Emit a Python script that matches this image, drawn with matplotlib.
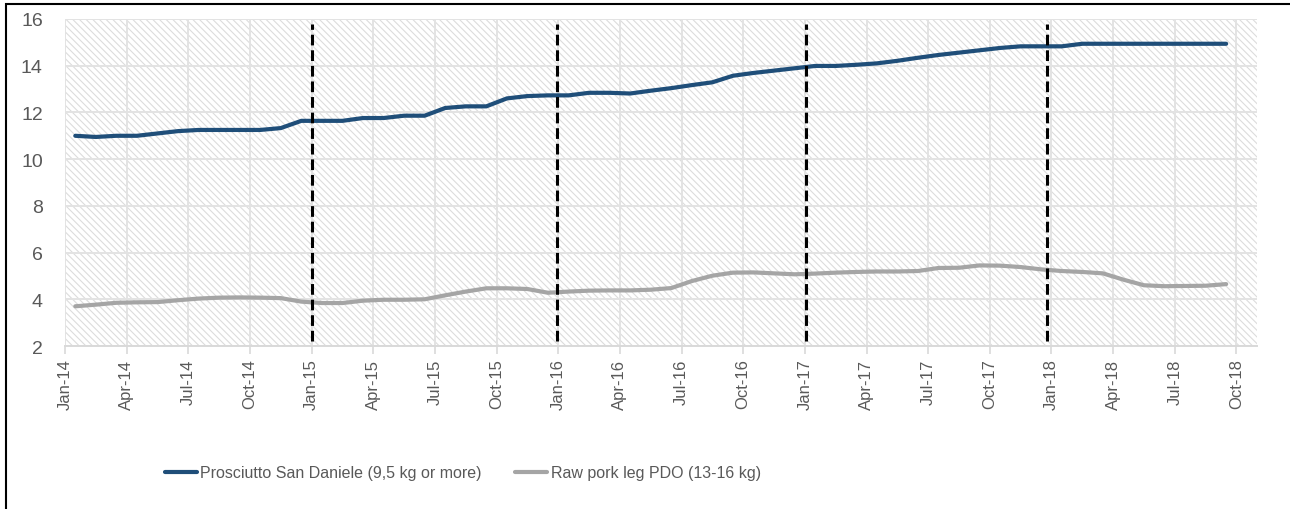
import matplotlib.pyplot as plt
from matplotlib.patches import Rectangle

# monthly prices (EUR/kg), Jan-14 .. Sep-18
san_daniele = [11.0, 10.95, 11.0, 11.0, 11.1, 11.2, 11.25, 11.25, 11.25, 11.25, 11.33, 11.64,
               11.64, 11.64, 11.76, 11.76, 11.86, 11.86, 12.19, 12.26, 12.26, 12.6, 12.7, 12.73,
               12.73, 12.84, 12.84, 12.81, 12.93, 13.04, 13.17, 13.29, 13.57, 13.69, 13.79, 13.89,
               13.99, 13.99, 14.04, 14.1, 14.21, 14.34, 14.46, 14.56, 14.66, 14.76, 14.83, 14.83,
               14.83, 14.94, 14.94, 14.94, 14.94, 14.94, 14.94, 14.94, 14.94]
raw_pork_leg = [3.70, 3.77, 3.85, 3.87, 3.88, 3.96, 4.03, 4.07, 4.08, 4.07, 4.05, 3.90,
                3.84, 3.84, 3.94, 3.98, 3.98, 4.00, 4.17, 4.33, 4.47, 4.47, 4.44, 4.28,
                4.33, 4.37, 4.38, 4.38, 4.41, 4.48, 4.78, 5.01, 5.14, 5.15, 5.11, 5.07,
                5.10, 5.14, 5.17, 5.19, 5.19, 5.21, 5.34, 5.35, 5.45, 5.44, 5.38, 5.28,
                5.21, 5.17, 5.11, 4.84, 4.60, 4.56, 4.57, 4.58, 4.65]

month_names = ['Jan', 'Apr', 'Jul', 'Oct']
years = ['14', '15', '16', '17', '18']
tick_labels = [m + '-' + y for y in years for m in month_names]
# year breaks (in months from Jan-14)
breaks = [12, 23.95, 36.05, 47.8]

label_1 = 'Prosciutto San Daniele (9,5 kg or more)'
label_2 = 'Raw pork leg PDO (13-16 kg)'

plt.rcParams['font.family'] = ['Liberation Sans', 'DejaVu Sans']

fig = plt.figure(figsize=(12.9, 5.1), dpi=100)
ax = fig.add_axes([65 / 1290, 1 - 347 / 510, (1257 - 65) / 1290, (347 - 20) / 510])

# hatched plot area
plt.rcParams['hatch.color'] = '#dcdcdc'
plt.rcParams['hatch.linewidth'] = 0.8
ax.add_patch(Rectangle((0, 0), 1, 1, transform=ax.transAxes, facecolor='white',
                       edgecolor='#dcdcdc', hatch='\\\\\\\\\\', linewidth=0, zorder=0))

x = [i + 0.5 for i in range(len(san_daniele))]
ax.plot(x, san_daniele, color='#1f4e79', linewidth=3, label=label_1, zorder=3,
        solid_capstyle='round')
ax.plot(x, raw_pork_leg, color='#a5a5a5', linewidth=3, label=label_2, zorder=3,
        solid_capstyle='round')

ax.vlines(breaks, 2.2, 15.8, colors='black', linewidth=2.2,
          linestyles=(0, (3.5, 1.6)), zorder=4)

ax.set_xlim(0, 58)
ax.set_ylim(2, 16)
ticks = list(range(0, 58, 3))
ax.set_xticks(ticks)
ax.set_xticklabels(tick_labels[:len(ticks)], rotation=90, fontsize=12, color='#595959')
ax.set_yticks(range(2, 17, 2))
ax.tick_params(axis='y', length=0, pad=16, labelsize=14, labelcolor='#595959')
ax.tick_params(axis='x', length=6, width=1.2, color='#d9d9d9', pad=3)
ax.grid(True, color='#e3e3e3', linewidth=1.4, zorder=1)
ax.set_axisbelow(True)
for s in ['top', 'right', 'left']:
    ax.spines[s].set_visible(False)
ax.spines['bottom'].set_color('#d9d9d9')
ax.spines['bottom'].set_linewidth(1.4)

fig.legend(loc='center', bbox_to_anchor=(463 / 1290, 1 - 474 / 510), ncol=2, frameon=False,
           prop={'size': 11.5}, labelcolor='#595959',
           handlelength=2.0, handletextpad=0.2, columnspacing=2.1)

# chart border
fig.patches.append(Rectangle((6 / 1290, -0.02), 1.0, 1 - 5 / 510 + 0.02, transform=fig.transFigure,
                             fill=False, edgecolor='black', linewidth=1.5))

fig.savefig('out.png', dpi=100)
